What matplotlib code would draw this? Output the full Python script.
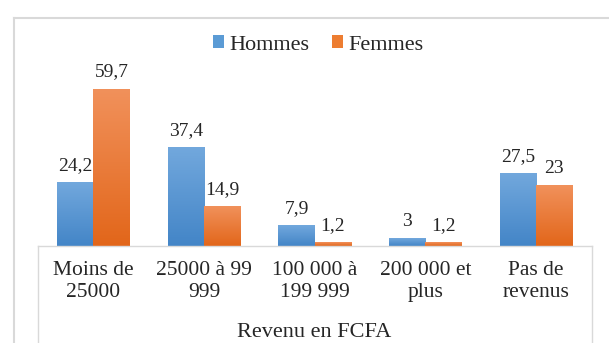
import matplotlib
matplotlib.use("Agg")
import matplotlib.pyplot as plt
import numpy as np
from matplotlib.colors import LinearSegmentedColormap
from matplotlib.patches import Patch
from matplotlib.lines import Line2D

plt.rcParams['font.family'] = ['Liberation Serif', 'DejaVu Serif']

# Données
categories = ["Moins de\n25000", "25000 à 99\n999", "100 000 à\n199 999",
              "200 000 et\nplus", "Pas de\nrevenus"]
hommes = [24.2, 37.4, 7.9, 3, 27.5]
femmes = [59.7, 14.9, 1.2, 1.2, 23]

W, H = 609, 343
fig = plt.figure(figsize=(W / 100, H / 100), dpi=100)
ax = fig.add_axes([38 / W, (H - 246) / H, (591.5 - 38) / W, 184 / H])

# dégradés clair en haut -> foncé en bas
cm_h = LinearSegmentedColormap.from_list("h", ["#4385c7", "#72a8dd"])
cm_f = LinearSegmentedColormap.from_list("f", ["#e2661a", "#f1915b"])
grad = np.linspace(0, 1, 256).reshape(-1, 1)

x = np.arange(len(categories))
bw = 0.33


def gradient_bars(xs, vals, cmap):
    for xi, v in zip(xs, vals):
        ax.imshow(grad, cmap=cmap, origin="lower", aspect="auto",
                  extent=[xi - bw / 2, xi + bw / 2, 0, v], zorder=2)
        lab = f"{v:g}".replace(".", ",")
        ax.annotate(lab, (xi, v), xytext=(0, 9), textcoords="offset points",
                    ha="center", va="baseline", fontsize=14, color="#262626")


gradient_bars(x - bw / 2, hommes, cm_h)
gradient_bars(x + bw / 2, femmes, cm_f)

ax.set_xlim(-0.5, len(categories) - 0.5)
ax.set_ylim(0, 70)
ax.set_xticks(x)
ax.set_xticklabels(categories, fontsize=15.5, linespacing=1.2, color="#262626")
ax.tick_params(axis="x", length=0, pad=11)
ax.set_yticks([])
for s in ["top", "left", "right"]:
    ax.spines[s].set_visible(False)
ax.spines["bottom"].set_color("#d9d9d9")
ax.spines["bottom"].set_linewidth(1)

# bords du tableau des catégories
for xf in (38 / W, 591.5 / W):
    fig.add_artist(Line2D([xf, xf], [0, (H - 246) / H], color="#d9d9d9", lw=1))

# cadre du graphique
fig.add_artist(Line2D([14 / W, 14 / W], [0, (H - 18) / H], color="#d9d9d9", lw=1.5))
fig.add_artist(Line2D([14 / W, 1], [(H - 18) / H, (H - 18) / H], color="#d9d9d9", lw=1.5))

fig.text(314.5 / W, (H - 336.7) / H, "Revenu en FCFA", ha="center", va="baseline",
         fontsize=16, color="#262626")

handles = [Patch(facecolor="#5b9bd5", label="Hommes"),
           Patch(facecolor="#ed7d31", label="Femmes")]
fig.legend(handles=handles, loc="center", bbox_to_anchor=(318 / W, (H - 45) / H),
           ncol=2, frameon=False, fontsize=16, handlelength=0.5, handleheight=0.5,
           handletextpad=0.25, columnspacing=1.0, labelcolor="#262626")

fig.savefig("out.png", dpi=100)
